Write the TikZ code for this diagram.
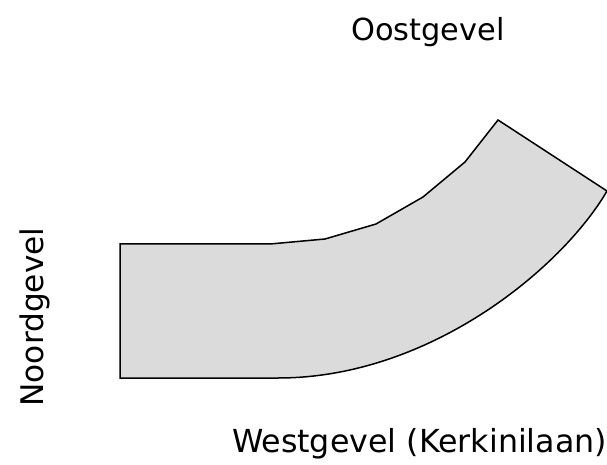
\documentclass[tikz,border=0pt]{standalone}
\usepackage{fontspec}
\setmainfont{DejaVu Sans}
\tikzset{lbl/.style={inner sep=0pt,text=black}}
\begin{document}
\begin{tikzpicture}[x=1bp,y=-1bp]
\useasboundingbox (0,0) rectangle (607,465);
\draw[fill=black!14,line width=1.5bp,line join=miter]
 (120,244) -- (270,244) -- (325,239) -- (376,224) -- (423,197) -- (465,162) -- (498,120) -- (607,191)
 .. controls (562,268) and (430,378) .. (278,378) -- (120,378) -- cycle;
\node[lbl,font=\fontsize{30.4bp}{36bp}\selectfont] (o) at (428,32) {Oostgevel};
\node[lbl,rotate=90,font=\fontsize{31.2bp}{36bp}\selectfont] (n) at (35,317) {Noordgevel};
\node[lbl,font=\fontsize{31.7bp}{36bp}\selectfont] (w) at (419.5,444) {Westgevel (Kerkinilaan)};
\end{tikzpicture}
\end{document}
